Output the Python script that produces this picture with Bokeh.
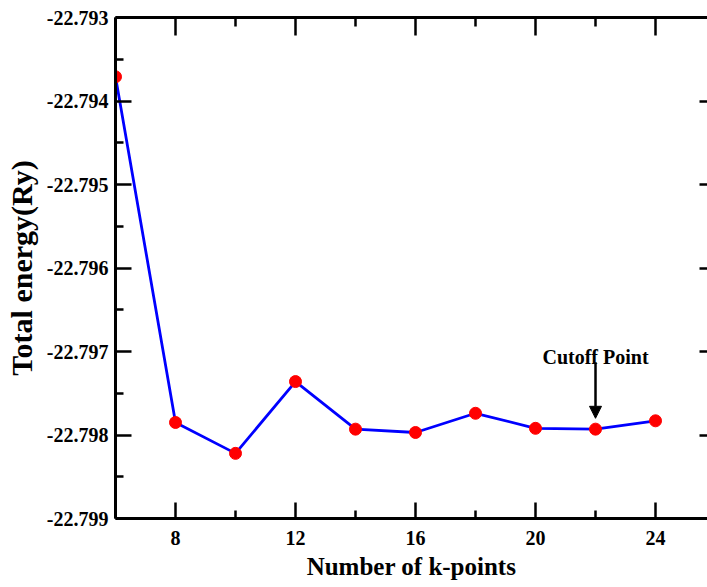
from bokeh.plotting import figure
from bokeh.models import (ColumnDataSource, FixedTicker, LinearAxis, Range1d,
                          Arrow, NormalHead, Label, PrintfTickFormatter)
from bokeh.embed import file_html
from bokeh.resources import INLINE

# k-point convergence test: total energy vs number of k-points
k_points = [6, 8, 10, 12, 14, 16, 18, 20, 22, 24]
total_energy = [-22.79371, -22.79785, -22.79822, -22.79736, -22.79793,
                -22.79797, -22.79774, -22.79792, -22.79793, -22.79783]

x_major_ticks = [8, 12, 16, 20, 24]
x_minor_ticks = [6, 10, 14, 18, 22, 26]
y_major_ticks = [-22.799, -22.798, -22.797, -22.796, -22.795, -22.794, -22.793]
y_minor_ticks = [-22.7985, -22.7975, -22.7965, -22.7955, -22.7945, -22.7935]

cutoff_k = 22
cutoff_text = "Cutoff Point"
cutoff_arrow_from = -22.79713
cutoff_arrow_to = -22.79780
cutoff_text_y = -22.79707

FONT = "Liberation Serif"

src = ColumnDataSource(data=dict(k=k_points, e=total_energy))

p = figure(width=707, height=587,
           x_range=Range1d(6, 25.733), y_range=Range1d(-22.799, -22.793),
           output_backend="svg", toolbar_location=None,
           min_border_left=115, min_border_right=0,
           min_border_top=17, min_border_bottom=69)
p.outline_line_color = None
p.grid.visible = False
p.background_fill_color = "white"
p.border_fill_color = "white"


def style_axis(ax, tick_in=16, minor_in=8, line=True):
    ax.axis_line_width = 3
    ax.axis_line_color = "black" if line else None
    ax.major_tick_in = tick_in
    ax.major_tick_out = 0
    ax.minor_tick_in = minor_in
    ax.minor_tick_out = 0
    ax.major_tick_line_width = 2.5
    ax.minor_tick_line_width = 2.5
    ax.major_tick_line_color = "black"
    ax.minor_tick_line_color = "black" if minor_in > 0 else None
    ax.major_label_text_font = FONT
    ax.major_label_text_font_style = "bold"
    ax.major_label_text_font_size = "20px"
    ax.major_label_text_color = "black"
    ax.axis_label_text_font = FONT
    ax.axis_label_text_font_style = "bold"
    ax.axis_label_text_color = "black"


x_ticker = FixedTicker(ticks=x_major_ticks, minor_ticks=x_minor_ticks)
y_ticker = FixedTicker(ticks=y_major_ticks, minor_ticks=y_minor_ticks)

xax = p.xaxis[0]
xax.ticker = x_ticker
style_axis(xax)
xax.major_label_standoff = 12
xax.axis_label = "Number of k-points"
xax.axis_label_text_font_size = "25px"
xax.axis_label_standoff = 5

yax = p.yaxis[0]
yax.ticker = y_ticker
yax.formatter = PrintfTickFormatter(format="%.3f")
style_axis(yax)
yax.major_label_standoff = 7
yax.axis_label = "Total energy(Ry)"
yax.axis_label_text_font_size = "30px"
yax.axis_label_standoff = 6

# mirrored tick marks on the top and right edges, no labels
top = LinearAxis(ticker=x_ticker)
style_axis(top, tick_in=18, minor_in=9)
top.major_label_text_color = None
top.major_label_standoff = 0
p.add_layout(top, "above")

right = LinearAxis(ticker=y_ticker)
style_axis(right, tick_in=8, minor_in=0, line=False)
right.major_label_text_color = None
right.major_label_standoff = 0
p.add_layout(right, "right")

p.line("k", "e", source=src, line_color="#0000ff", line_width=2.8)
p.scatter("k", "e", source=src, size=12, fill_color="#ff0000",
          line_color="#ff0000")

p.add_layout(Arrow(end=NormalHead(size=12, fill_color="black", line_color="black"),
                   x_start=cutoff_k, y_start=cutoff_arrow_from,
                   x_end=cutoff_k, y_end=cutoff_arrow_to,
                   line_width=2.5, line_color="black"))
p.add_layout(Label(x=cutoff_k, y=cutoff_text_y, text=cutoff_text,
                   text_align="center", text_baseline="alphabetic",
                   text_font=FONT, text_font_style="bold",
                   text_font_size="20px", text_color="black"))

open("out.html", "w").write(file_html(p, INLINE))
